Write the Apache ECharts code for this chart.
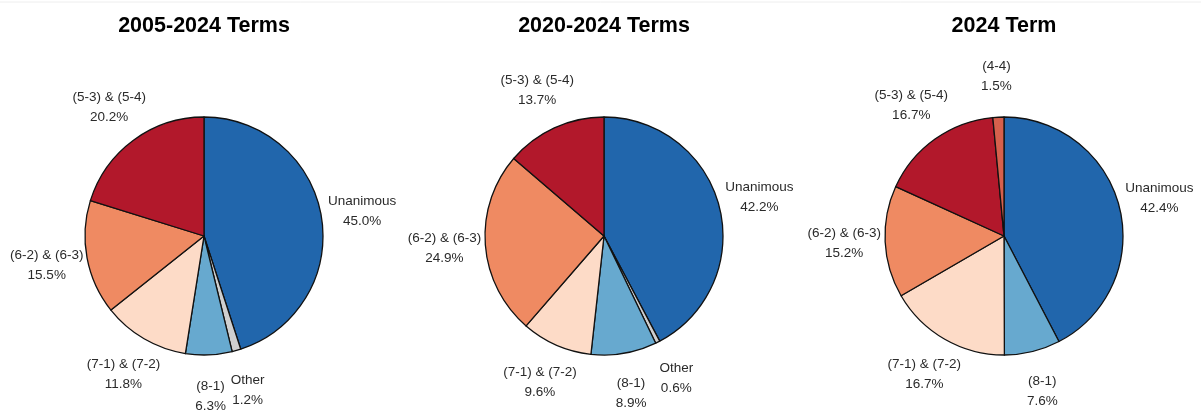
<!DOCTYPE html>
<html>
<head>
<meta charset="utf-8">
<script src="https://cdn.jsdelivr.net/npm/echarts@6/dist/echarts.min.js"></script>
<style>
  html, body { margin: 0; padding: 0; background: #fff; }
  #chart { width: 1201px; height: 414px; }
</style>
</head>
<body>
<div id="chart"></div>
<script>
const titles = ['2005-2024 Terms', '2020-2024 Terms', '2024 Term'];

// slice order, clockwise from 12 o'clock
const catsA = ['Unanimous', 'Other', '(8-1)', '(7-1) & (7-2)', '(6-2) & (6-3)', '(5-3) & (5-4)'];
const valsA = [45.0, 1.2, 6.3, 11.8, 15.5, 20.2];

const catsB = ['Unanimous', 'Other', '(8-1)', '(7-1) & (7-2)', '(6-2) & (6-3)', '(5-3) & (5-4)'];
const valsB = [42.2, 0.6, 8.9, 9.6, 24.9, 13.7];

const catsC = ['Unanimous', '(8-1)', '(7-1) & (7-2)', '(6-2) & (6-3)', '(5-3) & (5-4)', '(4-4)'];
const valsC = [42.4, 7.6, 16.7, 15.2, 16.7, 1.5];

const colorMap = {
  'Unanimous': '#2166ac',
  'Other': '#cfcfcf',
  '(8-1)': '#67a9cf',
  '(7-1) & (7-2)': '#fddbc7',
  '(6-2) & (6-3)': '#ef8a62',
  '(5-3) & (5-4)': '#b2182b',
  '(4-4)': '#d6604d'
};

const pies = [
  { cats: catsA, vals: valsA, cx: 204 },
  { cats: catsB, vals: valsB, cx: 604 },
  { cats: catsC, vals: valsC, cx: 1004 }
];
const cy = 236;
const R = 119;
const labelR = 160;

const chart = echarts.init(document.getElementById('chart'));

chart.setOption({
  animation: false,
  textStyle: { fontFamily: 'Liberation Sans, Arial, sans-serif' },
  title: titles.map((t, i) => ({
    text: t,
    left: pies[i].cx - 5,
    textAlign: 'center',
    top: 10,
    textStyle: { fontSize: 21.5, fontWeight: 'bold', color: '#000', fontFamily: 'Liberation Sans, Arial, sans-serif' }
  })),
  graphic: [{
    type: 'line',
    shape: { x1: 0, y1: 2, x2: 1201, y2: 2 },
    style: { stroke: '#eeeeee', lineWidth: 1 }
  }],
  series: pies.map((p, si) => ({
    type: 'pie',
    center: [p.cx, cy],
    radius: [0, R],
    startAngle: 90,
    clockwise: true,
    avoidLabelOverlap: false,
    data: p.cats.map((c, k) => ({
      name: c,
      value: p.vals[k],
      itemStyle: { color: colorMap[c] }
    })),
    itemStyle: { borderColor: '#111', borderWidth: 1.3 },
    label: {
      show: true,
      position: 'outside',
      formatter: d => d.name + '\n' + d.value.toFixed(1) + '%',
      color: '#2a2a2a',
      fontSize: 13.5,
      lineHeight: 20,
      fontFamily: 'Liberation Sans, Arial, sans-serif'
    },
    labelLine: { show: false },
    labelLayout: params => {
      const pp = pies[params.seriesIndex];
      const total = pp.vals.reduce((a, b) => a + b, 0);
      let before = 0;
      for (let k = 0; k < params.dataIndex; k++) before += pp.vals[k];
      const mid = (before + pp.vals[params.dataIndex] / 2) / total * Math.PI * 2;
      return {
        x: pp.cx + labelR * Math.sin(mid),
        y: cy - labelR * Math.cos(mid),
        align: 'center',
        verticalAlign: 'middle'
      };
    },
    emphasis: { disabled: true }
  }))
});
</script>
</body>
</html>
